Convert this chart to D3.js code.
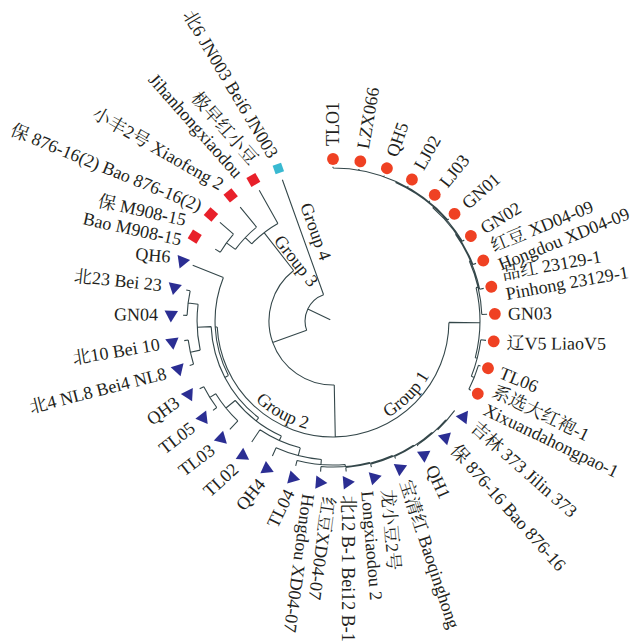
<!DOCTYPE html>
<html><head><meta charset="utf-8">
<script src="https://cdn.jsdelivr.net/npm/d3@7"></script>
<style>html,body{margin:0;padding:0;background:#fff}</style>
</head><body>
<svg id="chart" width="643" height="643"></svg>
<script>
// ---- leaves, clockwise from the top ----
const leafLabels = [
  "TLO1","LZX066","QH5","LJ02","LJ03","GN01","GN02",
  ["红豆 XD04-09","Hongdou XD04-09"],
  ["品红 23129-1","Pinhong 23129-1"],
  "GN03","辽V5 LiaoV5","TL06",
  ["系选大红袍-1","Xixuandahongpao-1"],
  "吉林 373 Jilin 373","保 876-16 Bao 876-16","QH1","宝清红 Baoqinghong",
  ["龙小豆2号","Longxiaodou 2"],
  "北12 B-1 Bei12 B-1",
  ["红豆XD04-07","Hongdou XD04-07"],
  "TL04","QH4","TL02","TL03","TL05","QH3",
  "北4 NL8 Bei4 NL8","北10 Bei 10","GN04","北23 Bei 23","QH6",
  ["保 M908-15","Bao M908-15"],
  "保 876-16(2) Bao 876-16(2)","小丰2号 Xiaofeng 2",
  ["极早红小豆","Jihanhongxiaodou"],
  "北6 JN003 Bei6 JN003"
];
const leafGroups = [1,1,1,1,1,1,1,1,1,1,1,1,1,
  2,2,2,2,2,2,2,2,2,2,2,2,2,2,2,2,2,2,
  3,3,3,3,4];
const leafParents = ["P3","P3","P3","P3","P3","P3","P2","P1b","P1","P","Q","Q1","Q1",
  "M7","M7","M6","M5","M4","M3","M2","M1","M","L1a","L1b","L1c","L1c",
  "L2a","L2a","L2b","L2b","G2",
  "W","W","Z","G3","root"];
const leafDist = [0.995,0.995,0.995,0.995,0.995,0.995,0.995,0.995,0.995,0.995,0.995,0.995,0.995,
  0.975,0.975,0.975,0.975,0.975,0.975,0.975,0.965,0.955,0.94,0.965,0.965,0.965,
  0.968,0.968,0.968,0.968,0.974,
  0.89,0.968,0.948,0.968,0.968];

// ---- internal nodes ----
const nodeIds     = ["root","X","Y","G1","P","P1","P1b","P2","P3","Q","Q1",
  "G2","L","L1","L1a","M","M1","M2","M3","M4","M5","M6","M7","L1b","L1c","L2","L2a","L2b",
  "G3","Z","W"];
const nodeParents = [null,"root","X","Y","G1","P","P1","P1b","P2","G1","Q",
  "Y","G2","L","L1","L1a","M","M1","M2","M3","M4","M5","M6","L1","L1b","L","L2","L2",
  "X","G3","Z"];
const nodeDist    = [0.18,0.413,0.748,0.948,0.961,0.968,0.974,0.981,0.987,0.961,0.981,
  0.761,0.787,0.813,0.845,0.897,0.929,0.942,0.948,0.955,0.961,0.968,0.974,0.89,0.935,0.877,0.942,0.942,
  0.723,0.781,0.852];

const groupNames  = ["Group 1","Group 2","Group 3","Group 4"];
const groupColors = ["#ef4123","#2b2e93","#e8202a","#39b9d1"];

// ---- layout (label tilt in degrees relative to the radial direction) ----
const labelTilt = [0,0,0,0,0,0,0,0,2,2,-7,5,-1,
  5,2,10,6,10,5,3,12,15,14,9,-1,-9,3,-2,-2,-6,-17,
  -19,-19,-21,-12,-11];
const cx = 333, cy = 321;
const rScale = d3.scaleLinear().domain([0,1]).range([0,155]);
const markerR = 162, labelR = 175;
const span = 350;

const rows = nodeIds.map((id,i)=>({id, parent:nodeParents[i], dist:nodeDist[i]}))
  .concat(leafLabels.map((lab,i)=>({id:"leaf"+i, parent:leafParents[i], dist:leafDist[i],
      order:i, label:lab, group:leafGroups[i]})));
const root = d3.stratify().id(d=>d.id).parentId(d=>d.parent)(rows);
root.eachAfter(n => n.minOrder = n.children ? d3.min(n.children, c=>c.minOrder) : n.data.order);
root.sort((a,b)=>a.minOrder-b.minOrder);
d3.cluster().size([span,1]).separation(()=>1)(root);
const offset = -90 - span/leafLabels.length/2;
const deg = n => n.x + offset;
const rad = n => deg(n)*Math.PI/180;
const pt = (a,r)=>[cx + r*Math.cos(a), cy + r*Math.sin(a)];

const svg = d3.select("#chart");
svg.append("rect").attr("width",643).attr("height",643).attr("fill","#fff");

// ---- branches ----
const p = d3.path();
root.descendants().forEach(n=>{
  const a = rad(n), r = rScale(n.data.dist);
  const r0 = n.parent ? rScale(n.parent.data.dist) : 3;
  let s = pt(a,r0), e = pt(a,r);
  p.moveTo(s[0],s[1]); p.lineTo(e[0],e[1]);
  if(n.children){
    const as = n.children.map(rad);
    const a0 = d3.min(as), a1 = d3.max(as);
    const q = pt(a0,r);
    p.moveTo(q[0],q[1]);
    p.arc(cx,cy,r,a0,a1,false);
  }
});
svg.append("path").attr("d",p.toString()).attr("fill","none")
  .attr("stroke","#34474a").attr("stroke-width",1.1);

// ---- markers ----
const symbols = [d3.symbolCircle, d3.symbolTriangle, d3.symbolSquare, d3.symbolSquare];
const sizes = [110, 78, 105, 80];
const leaves = root.leaves();
svg.append("g").selectAll("path").data(leaves).join("path")
  .attr("d", d=>d3.symbol(symbols[d.data.group-1], sizes[d.data.group-1])())
  .attr("fill", d=>groupColors[d.data.group-1])
  .attr("transform", d=>{const q=pt(rad(d),markerR); return `translate(${q[0]},${q[1]}) rotate(${deg(d)})`;});

// ---- leaf labels ----
const font = "'Liberation Serif','Times New Roman','Noto Serif CJK SC','Noto Sans CJK SC',serif";
const lg = svg.append("g").attr("font-family",font).attr("font-size",18).attr("fill","#231f20");
leaves.forEach(d=>{
  const dg = deg(d);
  const left = dg > 100 && dg < 260;
  const q = pt(rad(d), labelR);
  const rot = (left ? dg+180 : dg) + labelTilt[d.data.order];
  const t = lg.append("text")
    .attr("transform",`translate(${q[0]},${q[1]}) rotate(${rot})`)
    .attr("text-anchor", left?"end":"start");
  const lab = d.data.label;
  if(Array.isArray(lab)){
    t.append("tspan").attr("x",0).attr("dy","-0.22em").text(lab[0]);
    t.append("tspan").attr("x",0).attr("dy","1.12em").text(lab[1]);
  } else {
    t.attr("dy","0.35em").text(lab);
  }
});

// ---- group labels ----
const gl = svg.append("g").attr("font-family",font).attr("font-size",18).attr("fill","#231f20");
const defs = svg.append("defs");
function arcPath(id, r, d0, d1){
  const pp = d3.path();
  const s = pt(d0*Math.PI/180, r);
  pp.moveTo(s[0],s[1]);
  pp.arc(cx,cy,r,d0*Math.PI/180,d1*Math.PI/180,true);
  defs.append("path").attr("id",id).attr("d",pp.toString());
}
arcPath("g1arc",111,80,10);
arcPath("g2arc",111,154,84);
gl.append("text").append("textPath").attr("href","#g1arc").attr("startOffset","50%")
  .attr("text-anchor","middle").text(groupNames[0]);
gl.append("text").append("textPath").attr("href","#g2arc").attr("startOffset","50%")
  .attr("text-anchor","middle").text(groupNames[1]);
const nodeById = new Map(root.descendants().map(n=>[n.id,n]));
[["G3",70,-2,groupNames[2]],["leaf35",90,-8,groupNames[3]]].forEach(([id,r,off,name])=>{
  const n = nodeById.get(id);
  const q = pt(rad(n), r);
  gl.append("text").attr("transform",`translate(${q[0]},${q[1]}) rotate(${deg(n)-180})`)
    .attr("text-anchor","middle").attr("y",off).text(name);
});
</script>
</body></html>
